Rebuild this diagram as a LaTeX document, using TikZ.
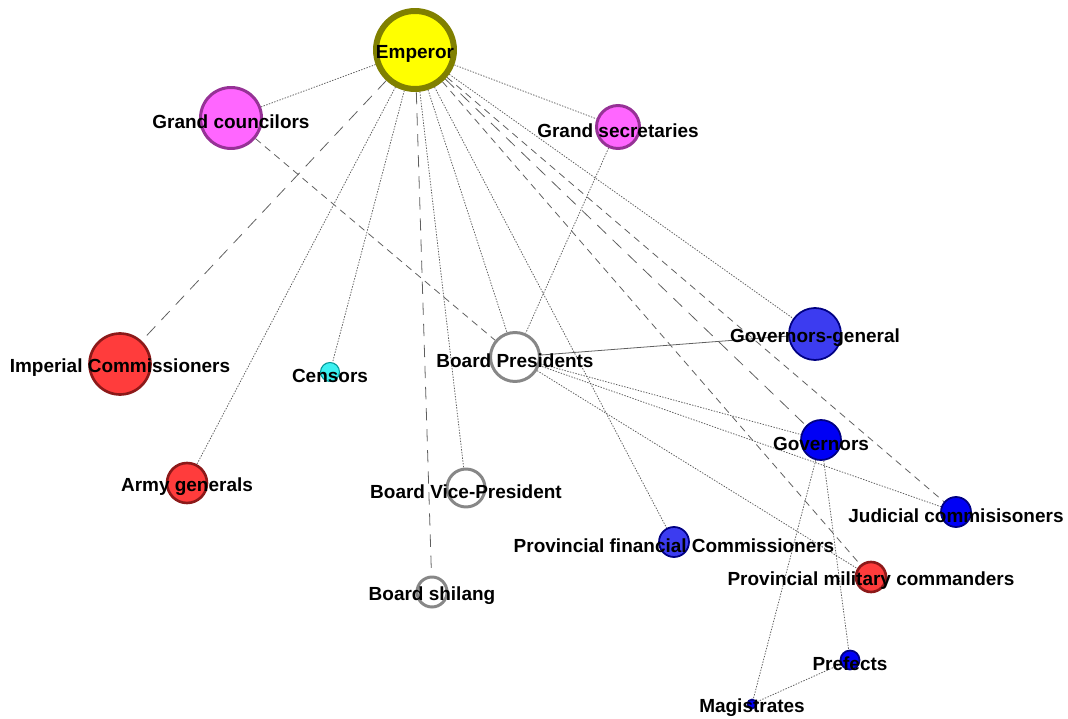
\documentclass[tikz,border=0pt]{standalone}
\usepackage{fontspec}
\setmainfont{Liberation Sans}
\usetikzlibrary{backgrounds}

\definecolor{empfill}{RGB}{255,255,0}
\definecolor{empline}{RGB}{128,128,0}
\definecolor{magfill}{RGB}{255,102,255}
\definecolor{magline}{RGB}{150,50,150}
\definecolor{redfill}{RGB}{255,60,60}
\definecolor{redline}{RGB}{140,25,25}
\definecolor{cyanfill}{RGB}{60,240,240}
\definecolor{cyanline}{RGB}{0,150,150}
\definecolor{boardline}{RGB}{135,135,135}
\definecolor{ggfill}{RGB}{60,60,240}
\definecolor{bluefill}{RGB}{0,0,245}
\definecolor{blueline}{RGB}{0,0,130}
\definecolor{tiegray}{RGB}{95,95,95}

\begin{document}
\begin{tikzpicture}[x=0.02cm,y=-0.02cm,
  every label/.style={font=\fontsize{10.8}{13}\selectfont\bfseries,yshift=-2.2pt},
  rank/.style={circle,inner sep=0pt},
  throne/.style={rank,fill=empfill,draw=empline,line width=3.4pt},
  council/.style={rank,fill=magfill,draw=magline,line width=1.7pt},
  military/.style={rank,fill=redfill,draw=redline,line width=1.5pt},
  censor/.style={rank,fill=cyanfill,draw=cyanline,line width=0.6pt},
  board/.style={rank,fill=white,draw=boardline,line width=1.7pt},
  province/.style={rank,fill=bluefill,draw=blueline,line width=1pt},
  tie/.style={draw=tiegray,line width=0.45pt},
  dotline/.style={tie,dash pattern=on 0.8pt off 0.8pt},
  dashline/.style={tie,dash pattern=on 4pt off 3pt},
  longdash/.style={tie,dash pattern=on 7pt off 5pt}]

\useasboundingbox (0,0) rectangle (1068,719);

% Court
\node[throne,minimum size=1.56cm,label=center:Emperor] (emp) at (415,50) {};
\node[council,minimum size=1.22cm,label=center:Grand councilors] (gcoun) at (231,118) {};
\node[council,minimum size=0.86cm,label=center:Grand secretaries] (gsec) at (618,127) {};

% Military and censors
\node[military,minimum size=1.22cm,label=center:Imperial Commissioners] (impc) at (120,364) {};
\node[military,minimum size=0.80cm,label=center:Army generals] (army) at (187,483) {};
\node[censor,minimum size=0.38cm,label=center:Censors] (cens) at (330,372) {};

% Boards
\node[board,minimum size=0.98cm,label=center:Board Presidents] (bpres) at (515,357) {};
\node[board,minimum size=0.76cm,label=center:Board Vice-President] (bvice) at (466,488) {};
\node[board,minimum size=0.60cm,label=center:Board shilang] (bshil) at (432,592) {};

% Provinces
\node[province,fill=ggfill,minimum size=1.04cm,label=center:Governors-general] (ggen) at (815,334) {};
\node[province,minimum size=0.80cm,label=center:Governors] (gov) at (821,440) {};
\node[province,fill=ggfill,minimum size=0.60cm,label=center:Provincial financial Commissioners] (pfin) at (674,542) {};
\node[province,minimum size=0.60cm,label=center:Judicial commisisoners] (jud) at (956,512) {};
\node[military,minimum size=0.60cm,label=center:Provincial military commanders] (pmil) at (871,577) {};
\node[province,minimum size=0.38cm,label=center:Prefects] (pref) at (850,660) {};
\node[province,minimum size=0.18cm,label=center:Magistrates] (mag) at (752,704) {};

% Ties
\begin{scope}[on background layer]
\draw[dotline] (emp) -- (gcoun);
\draw[dotline] (emp) -- (gsec);
\draw[longdash] (emp) -- (impc);
\draw[dotline] (emp) -- (army);
\draw[dotline] (emp) -- (cens);
\draw[longdash] (emp) -- (bshil);
\draw[dotline] (emp) -- (bvice);
\draw[dotline] (emp) -- (bpres);
\draw[dotline] (emp) -- (pfin);
\draw[dotline] (emp) -- (ggen);
\draw[longdash] (emp) -- (gov);
\draw[dashline] (emp) -- (jud);
\draw[dashline] (emp) -- (pmil);
\draw[dashline] (gcoun) -- (bpres);
\draw[dotline] (gsec) -- (bpres);
\draw[tie] (bpres) -- (ggen);
\draw[dotline] (bpres) -- (gov);
\draw[dotline] (bpres) -- (jud);
\draw[dotline] (bpres) -- (pmil);
\draw[dotline] (gov) -- (pref);
\draw[dotline] (gov) -- (mag);
\draw[dotline] (pref) -- (mag);
\end{scope}

\end{tikzpicture}
\end{document}
